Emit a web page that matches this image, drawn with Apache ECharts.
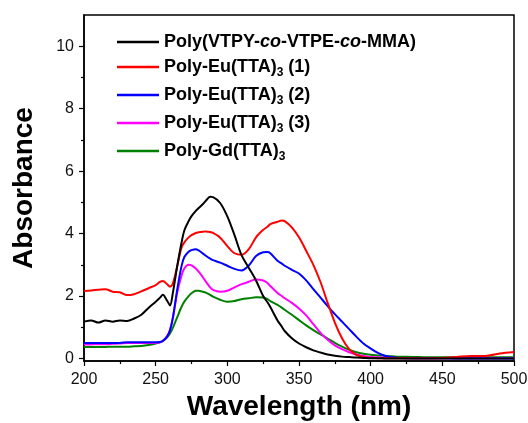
<!DOCTYPE html>
<html>
<head>
<meta charset="utf-8">
<script src="https://cdn.jsdelivr.net/npm/echarts@6/dist/echarts.min.js"></script>
<style>html,body{margin:0;padding:0;background:#fff;}#c{width:528px;height:423px;}</style>
</head>
<body>
<div id="c"></div>
<script>
const wavelengths = [200,205,210,215,220,225,230,235,240,245,250,253,255,258,260,262,265,268,270,273,275,278,280,283,285,288,290,295,300,305,310,315,320,325,328,330,335,338,340,345,350,355,360,365,370,375,380,385,390,395,400,405,410,415,420,430,440,450,460,470,480,490,500];
const polyCopolymer = [1.18,1.22,1.15,1.22,1.18,1.22,1.2,1.28,1.4,1.62,1.82,1.95,2.04,1.85,1.7,2.1,2.95,3.7,4.1,4.4,4.56,4.73,4.82,4.95,5.05,5.18,5.17,4.98,4.55,3.95,3.3,2.9,2.5,2.0,1.8,1.65,1.22,1.02,0.88,0.65,0.48,0.36,0.26,0.19,0.13,0.09,0.06,0.045,0.03,0.02,0.01,0.01,0,0,0,0,0,0,0,0,0,0,0];
const polyEu1 = [2.16,2.18,2.2,2.22,2.14,2.12,2.03,2.06,2.15,2.25,2.35,2.45,2.48,2.38,2.3,2.4,2.95,3.55,3.72,3.88,3.95,4.02,4.04,4.06,4.07,4.05,4.02,3.87,3.6,3.37,3.32,3.5,3.88,4.12,4.22,4.3,4.38,4.42,4.4,4.2,3.88,3.45,3.0,2.45,1.78,1.15,0.65,0.3,0.12,0.05,0.02,0.01,0.01,0.01,0.01,0.01,0.01,0.02,0.05,0.08,0.08,0.16,0.21];
const polyEu2 = [0.5,0.5,0.5,0.5,0.5,0.5,0.52,0.52,0.52,0.52,0.52,0.53,0.56,0.7,0.9,1.3,2.2,2.95,3.25,3.42,3.47,3.5,3.46,3.36,3.29,3.2,3.15,3.07,2.97,2.87,2.82,2.98,3.28,3.4,3.41,3.37,3.13,3.04,2.97,2.84,2.72,2.5,2.22,1.95,1.68,1.42,1.18,0.94,0.7,0.48,0.32,0.18,0.09,0.04,0.02,0.01,0.01,0.01,0,0,0,0,0];
const polyEu3 = [0.45,0.45,0.46,0.46,0.47,0.48,0.5,0.5,0.5,0.5,0.5,0.52,0.56,0.72,0.92,1.3,2.1,2.65,2.88,3.0,2.98,2.88,2.78,2.6,2.46,2.28,2.2,2.14,2.17,2.28,2.38,2.46,2.53,2.5,2.42,2.32,2.1,2.0,1.93,1.78,1.6,1.38,1.1,0.82,0.6,0.42,0.3,0.2,0.13,0.08,0.05,0.04,0.03,0.02,0.02,0.01,0.01,0.01,0.01,0.01,0.01,0.01,0.01];
const polyGd = [0.37,0.37,0.37,0.37,0.38,0.38,0.38,0.39,0.4,0.43,0.48,0.52,0.57,0.68,0.8,0.98,1.32,1.65,1.82,2.0,2.09,2.17,2.17,2.14,2.11,2.04,1.98,1.88,1.82,1.84,1.9,1.93,1.96,1.95,1.9,1.84,1.72,1.63,1.56,1.4,1.23,1.06,0.91,0.77,0.64,0.5,0.38,0.28,0.2,0.15,0.12,0.1,0.08,0.07,0.06,0.05,0.04,0.04,0.04,0.04,0.04,0.04,0.04];
const seriesNames = ['Poly(VTPY-co-VTPE-co-MMA)','Poly-Eu(TTA)3 (1)','Poly-Eu(TTA)3 (2)','Poly-Eu(TTA)3 (3)','Poly-Gd(TTA)3'];
const seriesColors = ['#000000','#ff0000','#0000ff','#ff00ff','#008000'];
const yMajorTicks = [0,2,4,6,8,10];
const yMinorTicks = [1,3,5,7,9];

const allData = [polyCopolymer, polyEu1, polyEu2, polyEu3, polyGd];
const legendRich = {
  '0': '{b|Poly(VTPY-}{i|co}{b|-VTPE-}{i|co}{b|-MMA)}',
  '1': '{b|Poly-Eu(TTA)}{s|3}{b| (1)}',
  '2': '{b|Poly-Eu(TTA)}{s|3}{b| (2)}',
  '3': '{b|Poly-Eu(TTA)}{s|3}{b| (3)}',
  '4': '{b|Poly-Gd(TTA)}{s|3}'
};
const FONT = 'Liberation Sans, Arial, sans-serif';
const chart = echarts.init(document.getElementById('c'));
chart.setOption({
  animation: false,
  backgroundColor: '#fff',
  grid: { left: 84, right: 14, top: 15, bottom: 62, outerBoundsMode: 'none', show: true, borderColor: '#000', borderWidth: 1.5, backgroundColor: 'transparent' },
  legend: {
    orient: 'vertical', left: 112, top: 28, itemWidth: 42, itemHeight: 2.5, itemGap: 7,
    icon: 'rect',
    data: seriesNames.map(function (n, k) { return { name: n, itemStyle: { color: seriesColors[k] } }; }),
    formatter: function (name) { return legendRich[seriesNames.indexOf(name)]; },
    textStyle: {
      fontFamily: FONT, color: '#000', padding: [0, 0, 0, 0],
      rich: {
        b: { fontSize: 18, fontWeight: 'bold', fontFamily: FONT, color: '#000' },
        i: { fontSize: 18, fontWeight: 'bold', fontStyle: 'italic', fontFamily: FONT, color: '#000' },
        s: { fontSize: 12, fontWeight: 'bold', fontFamily: FONT, color: '#000', padding: [12, 0, 0, 0] }
      }
    }
  },
  xAxis: {
    type: 'value', min: 200, max: 500, interval: 50,
    name: 'Wavelength (nm)', nameLocation: 'middle', nameGap: 29,
    nameTextStyle: { fontFamily: FONT, fontSize: 28, fontWeight: 'bold', color: '#000' },
    axisLine: { show: true, onZero: false, lineStyle: { color: '#000', width: 1.5 } },
    axisTick: { show: true, length: 5, lineStyle: { color: '#000', width: 1.2 } },
    minorTick: { show: true, splitNumber: 2, length: 3, lineStyle: { color: '#000', width: 1.2 } },
    axisLabel: { fontFamily: FONT, fontSize: 16, color: '#111', margin: 11 },
    splitLine: { show: false }
  },
  yAxis: [{
    type: 'value', min: -0.08, max: 11,
    name: 'Absorbance', nameLocation: 'middle', nameGap: 46,
    nameTextStyle: { fontFamily: FONT, fontSize: 28, fontWeight: 'bold', color: '#000' },
    axisLine: { show: true, onZero: false, lineStyle: { color: '#000', width: 1.5 } },
    axisTick: { show: true, length: 5, customValues: yMajorTicks, lineStyle: { color: '#000', width: 1.2 } },
    axisLabel: { customValues: yMajorTicks, fontFamily: FONT, fontSize: 16, color: '#111', margin: 10 },
    splitLine: { show: false }
  }, {
    type: 'value', min: -0.08, max: 11, position: 'left',
    axisLine: { show: false, onZero: false },
    axisTick: { show: true, length: 3, customValues: yMinorTicks, lineStyle: { color: '#000', width: 1.2 } },
    axisLabel: { show: false },
    splitLine: { show: false }
  }],
  series: allData.map(function (vals, k) {
    return {
      name: seriesNames[k], type: 'line', smooth: 0.3, symbol: 'none', yAxisIndex: 0,
      color: seriesColors[k],
      lineStyle: { width: 2, color: seriesColors[k] },
      data: wavelengths.map(function (w, i) { return [w, vals[i]]; }),
      z: 10 - k
    };
  })
});
</script>
</body>
</html>
